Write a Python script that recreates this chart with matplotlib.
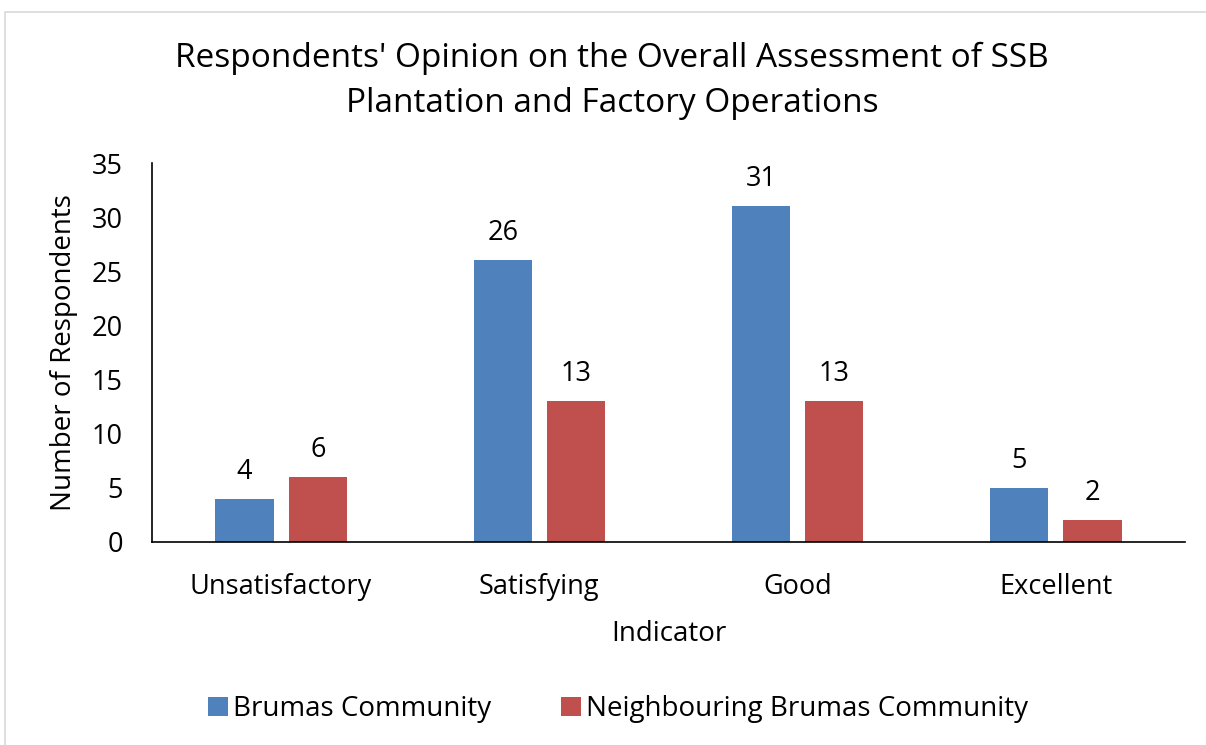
import matplotlib
matplotlib.use("Agg")
import matplotlib.pyplot as plt
import numpy as np
from matplotlib.patches import Rectangle

categories = ["Unsatisfactory", "Satisfying", "Good", "Excellent"]
brumas = [4, 26, 31, 5]
neighbouring = [6, 13, 13, 2]
series_names = ["Brumas Community", "Neighbouring Brumas Community"]
yticks = [0, 5, 10, 15, 20, 25, 30, 35]

plt.rcParams['font.family'] = ['Open Sans', 'DejaVu Sans']

fig = plt.figure(figsize=(12.06, 7.45), dpi=100)
ax = fig.add_axes([152/1206, 1-542/745, (1185-152)/1206, (542-163)/745])

x = np.arange(len(categories))
w = 0.225
off = 0.142
c1 = "#4F81BD"
c2 = "#C0504D"
fs = 19.5
b1 = ax.bar(x - off, brumas, w, color=c1, label=series_names[0])
b2 = ax.bar(x + off, neighbouring, w, color=c2, label=series_names[1])
for bars, vals in ((b1, brumas), (b2, neighbouring)):
    for r, v in zip(bars, vals):
        ax.text(r.get_x() + r.get_width()/2, v + 1.2, str(v), ha='center', va='bottom', fontsize=fs)

ax.set_xlim(-0.5, len(categories) - 0.5)
ax.set_ylim(0, 35)
ax.set_yticks(yticks)
ax.set_yticklabels([str(t) for t in yticks], fontsize=fs)
ax.set_xticks(x)
ax.set_xticklabels(categories, fontsize=fs)
ax.tick_params(axis='y', length=0, pad=21)
ax.tick_params(axis='x', length=0, pad=22)
for s in ['top', 'right']:
    ax.spines[s].set_visible(False)
ax.spines['left'].set_color('#000000')
ax.spines['bottom'].set_color('#000000')
ax.spines['left'].set_linewidth(1.2)
ax.spines['bottom'].set_linewidth(1.2)
ax.set_ylabel("Number of Respondents", fontsize=20, labelpad=10)
ax.set_xlabel("Indicator", fontsize=20, labelpad=14)

fig.text(612/1206, 1-81/745, "Respondents' Opinion on the Overall Assessment of SSB\nPlantation and Factory Operations",
         ha='center', va='center', fontsize=24, linespacing=1.5)

leg = fig.legend(handles=[b1, b2], labels=series_names, loc='center', bbox_to_anchor=(618/1206, 1-709/745),
                 ncol=2, frameon=False, fontsize=20, handlelength=0.72, handleheight=0.65,
                 handletextpad=0.18, columnspacing=2.5)

fig.patches.append(Rectangle((5/1206, -0.01), 1.02, 1-12/745 + 0.01, transform=fig.transFigure,
                             fill=False, edgecolor='#D9D9D9', linewidth=1.2))

fig.savefig("out.png", dpi=100)
